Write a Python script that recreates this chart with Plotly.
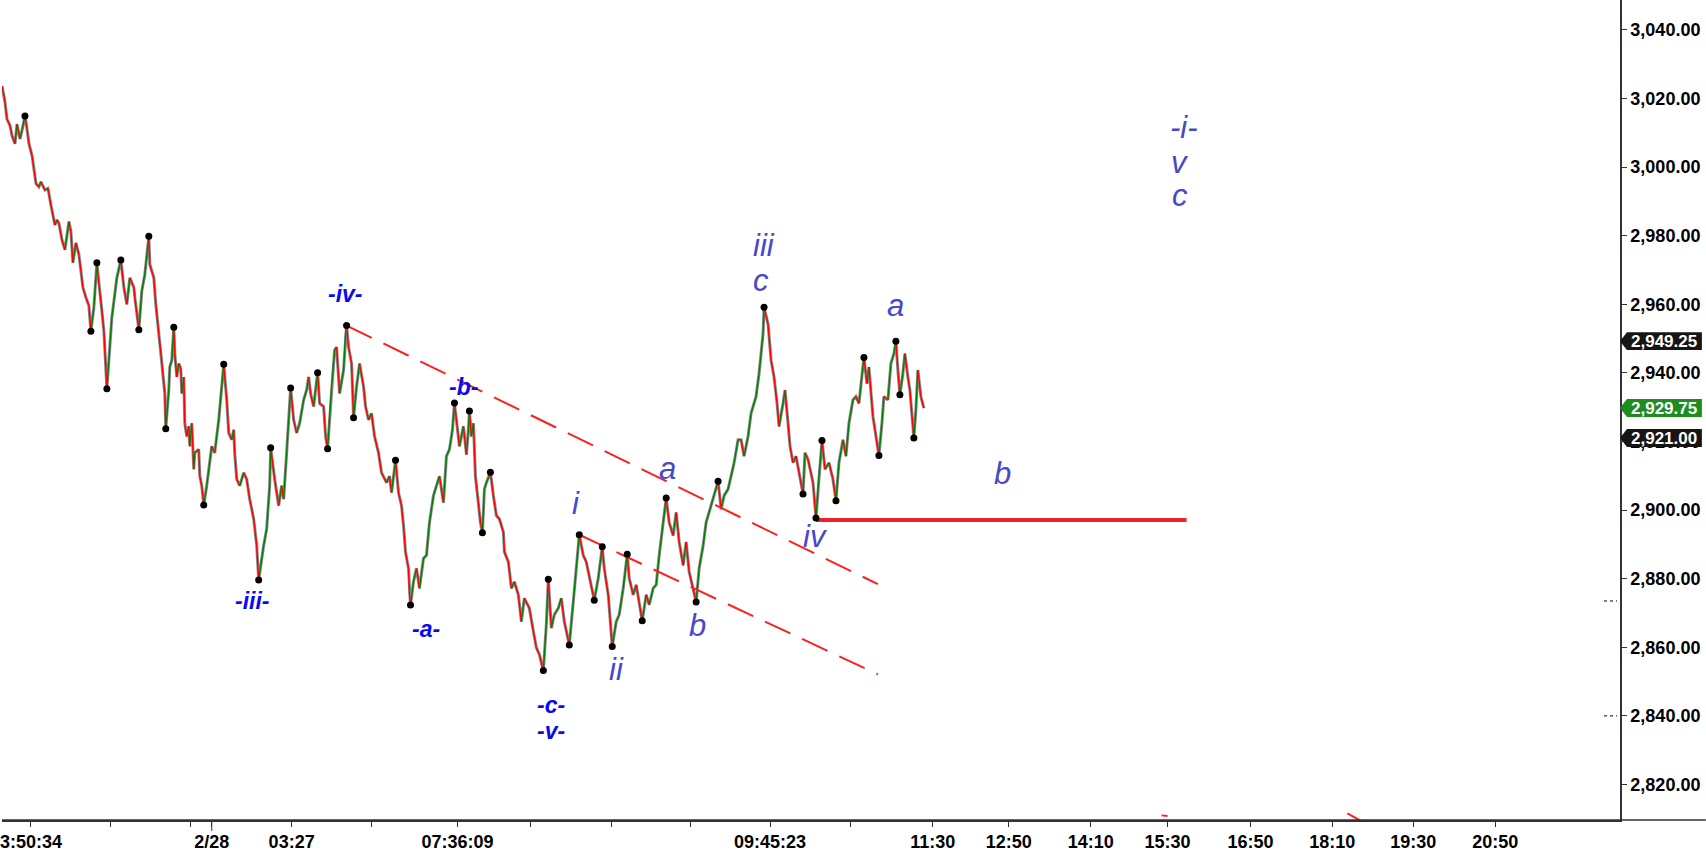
import plotly.graph_objects as go

# ---------------- data ----------------
bar = [0, 2, 3, 5, 8, 10, 13, 15, 18, 20, 23, 25, 27, 30, 32, 34, 37, 39, 43, 46,
       49, 53, 55, 57, 60, 63, 67, 69, 71, 74, 77, 79, 81, 84, 87, 89, 92, 95, 97, 99,
       102, 105, 107, 110, 115, 119, 122, 125, 128, 132, 133, 137, 140, 143, 147, 148, 152, 154, 157, 160,
       163, 164, 167, 168, 170, 172, 173, 175, 177, 179, 180, 182, 183, 185, 187, 188, 190, 192, 193, 197,
       198, 200, 202, 205, 210, 213, 217, 222, 225, 227, 230, 232, 233, 235, 238, 242, 245, 248, 252, 255,
       257, 262, 265, 268, 269, 273, 277, 280, 282, 285, 287, 289, 292, 295, 298, 302, 305, 307, 309, 312,
       316, 318, 322, 324, 326, 330, 333, 335, 338, 342, 344, 345, 347, 350, 352, 355, 358, 362, 364, 367,
       370, 373, 377, 380, 385, 388, 390, 394, 397, 400, 402, 404, 407, 408, 409, 412, 415, 418, 422, 425,
       428, 432, 435, 438, 442, 445, 448, 451, 453, 455, 458, 462, 465, 467, 468, 470, 472, 474, 477, 479,
       481, 483, 485, 489, 492, 495, 498, 502, 503, 507, 510, 513, 517, 520, 523, 528, 532, 535, 538, 542,
       545, 547, 550, 553, 557, 560, 563, 568, 572, 575, 578, 582, 585, 593, 597, 601, 603, 607, 611, 615,
       618, 622, 626, 628, 632, 635, 641, 645, 648, 652, 655, 658, 662, 665, 668, 672, 675, 678, 682, 685,
       688, 695, 698, 702, 705, 708, 717, 720, 723, 727, 730, 733, 737, 740, 743, 747, 750, 755, 758, 762,
       763, 767, 770, 773, 776, 778, 782, 784, 787, 789, 792, 795, 802, 804, 807, 812, 815, 818, 821, 824,
       828, 832, 835, 838, 842, 845, 848, 852, 855, 858, 863, 866, 868, 872, 878, 881, 883, 887, 890, 893,
       895, 897, 899, 902, 904, 907, 909, 913, 915, 917, 920, 923]

price = [3023.6, 3020.7, 3018.9, 3014.0, 3012.1, 3009.2, 3006.8, 3012.5, 3008.2, 3010.6,
         3014.9, 3011.1, 3006.8, 3003.4, 2999.5, 2995.2, 2994.2, 2995.7, 2993.3, 2993.8,
         2988.9, 2983.1, 2984.6, 2983.6, 2978.8, 2975.9, 2984.1, 2981.2, 2972.1, 2977.9,
         2974.5, 2969.7, 2964.9, 2962.0, 2959.6, 2952.1, 2959.1, 2972.1, 2965.8, 2961.0,
         2952.3, 2935.4, 2943.7, 2956.2, 2967.7, 2972.9, 2964.9, 2960.0, 2967.7, 2964.9,
         2962.0, 2952.6, 2963.9, 2968.7, 2979.8, 2971.6, 2967.7, 2960.0, 2951.4, 2943.2,
         2934.0, 2923.7, 2935.0, 2941.7, 2943.7, 2953.3, 2945.6, 2938.8, 2942.7, 2941.2,
         2934.0, 2938.8, 2925.3, 2921.5, 2924.4, 2918.6, 2925.3, 2911.9, 2916.7, 2917.7,
         2909.9, 2907.1, 2901.5, 2907.1, 2918.6, 2916.7, 2926.3, 2942.5, 2932.1, 2922.5,
         2920.5, 2923.4, 2916.7, 2909.0, 2907.1, 2910.9, 2909.0, 2903.2, 2897.4, 2889.7,
         2879.6, 2889.7, 2894.5, 2907.1, 2918.2, 2909.0, 2901.3, 2907.1, 2903.2, 2916.7,
         2926.3, 2935.6, 2926.3, 2922.5, 2925.3, 2932.1, 2935.0, 2938.8, 2934.0, 2930.2,
         2940.0, 2931.1, 2930.2, 2921.5, 2917.9, 2936.0, 2946.6, 2947.5, 2934.0, 2940.8,
         2951.4, 2953.8, 2947.5, 2942.7, 2926.9, 2936.0, 2942.7, 2936.0, 2930.2, 2926.3,
         2928.2, 2921.5, 2916.7, 2910.9, 2908.0, 2909.9, 2905.1, 2914.5, 2905.1, 2901.3,
         2895.5, 2887.8, 2883.0, 2875.3, 2872.3, 2879.1, 2883.0, 2877.2, 2885.9, 2886.8,
         2896.4, 2904.2, 2907.1, 2909.9, 2902.2, 2915.7, 2917.7, 2923.4, 2931.2, 2926.3,
         2918.6, 2924.4, 2916.2, 2923.4, 2928.9, 2921.5, 2925.3, 2909.9, 2902.2, 2896.4,
         2893.4, 2906.1, 2908.0, 2911.0, 2904.2, 2898.4, 2897.4, 2893.6, 2887.8, 2884.9,
         2877.2, 2879.1, 2875.3, 2867.5, 2874.3, 2871.4, 2864.7, 2859.9, 2857.9, 2853.2,
         2866.6, 2879.8, 2865.6, 2869.5, 2871.4, 2874.3, 2867.5, 2860.7, 2873.3, 2883.0,
         2892.8, 2886.8, 2884.9, 2873.7, 2880.1, 2889.3, 2883.0, 2875.3, 2860.2, 2867.5,
         2869.5, 2877.2, 2887.1, 2880.1, 2875.3, 2878.2, 2867.7, 2875.3, 2872.4, 2877.2,
         2878.2, 2886.8, 2896.4, 2903.5, 2896.4, 2892.6, 2899.3, 2890.7, 2883.9, 2890.7,
         2882.0, 2873.2, 2883.0, 2889.7, 2896.4, 2899.3, 2908.4, 2900.3, 2904.2, 2906.1,
         2909.9, 2913.8, 2920.5, 2920.5, 2915.7, 2921.5, 2928.2, 2933.1, 2939.8, 2951.4,
         2959.1, 2954.2, 2943.7, 2938.8, 2931.1, 2924.4, 2931.1, 2935.0, 2925.3, 2918.6,
         2913.8, 2915.7, 2904.7, 2916.7, 2914.8, 2908.0, 2897.7, 2909.9, 2920.3, 2911.9,
         2913.8, 2909.0, 2902.7, 2913.8, 2920.5, 2915.7, 2925.3, 2932.1, 2933.1, 2931.1,
         2944.5, 2936.9, 2941.7, 2927.3, 2915.9, 2925.3, 2933.1, 2932.1, 2942.7, 2945.6,
         2949.25, 2940.8, 2933.6, 2939.8, 2945.6, 2938.8, 2935.0, 2921.0, 2929.2, 2940.8,
         2933.1, 2929.75]

pivot_bar = [23, 89, 95, 105, 119, 137, 147, 164, 172, 202, 222, 257, 269, 289, 316,
             326, 345, 352, 394, 409, 453, 468, 481, 489, 542, 547, 568, 578, 593, 601,
             611, 626, 641, 665, 695, 717, 763, 802, 815, 821, 835, 863, 878, 895, 899, 913]
pivot_price = [3014.9, 2952.1, 2972.1, 2935.4, 2972.9, 2952.6, 2979.8, 2923.7, 2953.3, 2901.5,
               2942.5, 2879.6, 2918.2, 2935.6, 2940.0, 2917.9, 2953.8, 2926.9, 2914.5, 2872.3,
               2931.2, 2928.9, 2893.4, 2911.0, 2853.2, 2879.8, 2860.7, 2892.8, 2873.7, 2889.3,
               2860.2, 2887.1, 2867.7, 2903.5, 2873.2, 2908.4, 2959.1, 2904.7, 2897.7, 2920.3,
               2902.7, 2944.5, 2915.9, 2949.25, 2933.6, 2921.0]

# drawn lines
upper_chan_bar = [345, 877]
upper_chan_price = [2953.8, 2878.4]
lower_chan_bar = [578, 877]
lower_chan_price = [2892.8, 2852.1]
support_bar = [815, 1186]
support_price = [2897.1, 2897.1]
frag1_bar = [1161, 1167]
frag1_price = [2811.0, 2810.8]
frag2_bar = [1347, 1368]
frag2_price = [2811.6, 2808.2]
marker_levels = [2873.5, 2840.0]

# wave labels: (text, bar, price)
major_labels = [("-iv-", 344, 2963.1), ("-iii-", 251, 2873.5), ("-a-", 425, 2865.4),
                ("-b-", 462, 2936.0), ("-c-", 550, 2843.2), ("-v-", 550, 2835.7)]
minor_labels = [("i", 575, 2901.8), ("ii", 615, 2853.6), ("a", 666, 2912.0),
                ("b", 696, 2866.3), ("iii", 763, 2977.0), ("c", 760, 2966.9),
                ("iv", 814, 2892.3), ("a", 895, 2959.7), ("b", 1002, 2910.8),
                ("-i-", 1183, 3011.4), ("v", 1179, 3001.3), ("c", 1179, 2991.7)]

# price tags on the axis
tag_prices = [2949.25, 2929.75, 2921.00]
tag_colors = ["#151515", "#1e8c1e", "#151515"]

# axis ticks
x_tick_pos = [29, 109, 189, 210, 290, 370, 456, 529, 610, 689, 769, 850,
              932, 1008, 1090, 1167, 1250, 1332, 1413, 1495]
x_tick_text = ["3:50:34", "", "", "2/28", "03:27", "", "07:36:09", "", "", "", "09:45:23", "",
               "11:30", "12:50", "14:10", "15:30", "16:50", "18:10", "19:30", "20:50"]
y_ticks = [2820, 2840, 2860, 2880, 2900, 2920, 2940, 2960, 2980, 3000, 3020, 3040]

# ---------------- figure ----------------
W, H = 1706, 852
PL, PR, PT, PB = 0, 86, 0, 25
plot_w = W - PL - PR
plot_h = H - PT - PB
y_lo, y_hi = 2809.65, 3048.7
px_per_unit = plot_h / (y_hi - y_lo)

fig = go.Figure()

# gray "wick" underlay
fig.add_trace(go.Scatter(x=bar, y=price, mode="lines",
                         line=dict(color="#8a8a8a", width=3.0), hoverinfo="skip"))

up_x, up_y, dn_x, dn_y = [], [], [], []
for i in range(len(price) - 1):
    if price[i + 1] >= price[i]:
        up_x += [bar[i], bar[i + 1], None]
        up_y += [price[i], price[i + 1], None]
    else:
        dn_x += [bar[i], bar[i + 1], None]
        dn_y += [price[i], price[i + 1], None]
fig.add_trace(go.Scatter(x=up_x, y=up_y, mode="lines",
                         line=dict(color="#008000", width=1.4), hoverinfo="skip"))
fig.add_trace(go.Scatter(x=dn_x, y=dn_y, mode="lines",
                         line=dict(color="#ff0000", width=1.4), hoverinfo="skip"))

# channel lines
for bx, py in [(upper_chan_bar, upper_chan_price), (lower_chan_bar, lower_chan_price)]:
    fig.add_trace(go.Scatter(x=bx, y=py, mode="lines",
                             line=dict(color="#ff1f1f", width=2, dash="28px,13px"),
                             hoverinfo="skip"))
fig.add_trace(go.Scatter(x=support_bar, y=support_price, mode="lines",
                         line=dict(color="#e8232b", width=4), hoverinfo="skip"))
for bx, py in [(frag1_bar, frag1_price), (frag2_bar, frag2_price)]:
    fig.add_trace(go.Scatter(x=bx, y=py, mode="lines",
                             line=dict(color="#ff2020", width=2), hoverinfo="skip"))

# pivot dots
fig.add_trace(go.Scatter(x=pivot_bar, y=pivot_price, mode="markers",
                         marker=dict(color="black", size=7), hoverinfo="skip"))

annotations = []
for t, bx, py in major_labels:
    annotations.append(dict(x=bx, y=py, xref="x", yref="y", text=t, showarrow=False,
                            font=dict(family="Liberation Sans, Arial", size=23, color="#0a0af0",
                                      weight="bold", style="italic")))
for t, bx, py in minor_labels:
    annotations.append(dict(x=bx, y=py, xref="x", yref="y", text=t, showarrow=False,
                            font=dict(family="Liberation Sans, Arial", size=31, color="#4848cc",
                                      style="italic")))

shapes = []
# price tags
tip = 1.0
box_l = 1 + 7 / plot_w
box_r = 1 + 82 / plot_w
half = 9 / px_per_unit
for p, c in zip(tag_prices, tag_colors):
    shapes.append(dict(type="path", xref="paper", yref="y",
                       path=f"M {tip},{p} L {box_l},{p + half} L {box_r},{p + half} "
                            f"L {box_r},{p - half} L {box_l},{p - half} Z",
                       fillcolor=c, line=dict(width=0), layer="above"))
    annotations.append(dict(x=(box_l + box_r) / 2, y=p, xref="paper", yref="y",
                            text=f"{p:,.2f}", showarrow=False, xanchor="center",
                            font=dict(family="Liberation Sans, Arial", size=17, color="white",
                                      weight="bold")))

# bottom rule extending under the price scale
shapes.append(dict(type="line", xref="paper", yref="paper", x0=0, x1=W / plot_w, y0=0, y1=0,
                   line=dict(color="#333333", width=1.5)))
# long tick at the day change
shapes.append(dict(type="line", xref="x", yref="paper", x0=210, x1=210, y0=0, y1=-11 / plot_h,
                   line=dict(color="#333333", width=1)))
# small dotted level markers near the scale
for lv in marker_levels:
    shapes.append(dict(type="line", xref="paper", yref="y", x0=1 - 16 / plot_w, x1=1 - 3 / plot_w,
                       y0=lv, y1=lv, line=dict(color="black", width=1, dash="dot")))

tickfont = dict(family="Liberation Sans, Arial", size=18, color="black", weight="bold")

fig.update_layout(
    width=W, height=H,
    margin=dict(l=PL, r=PR, t=PT, b=PB, pad=0),
    paper_bgcolor="white", plot_bgcolor="white",
    showlegend=False,
    annotations=annotations, shapes=shapes,
    xaxis=dict(range=[0, plot_w], tickmode="array", tickvals=x_tick_pos, ticktext=x_tick_text,
               showgrid=False, zeroline=False, showline=True, linecolor="#333333", linewidth=1.5,
               ticks="outside", ticklen=5, tickcolor="#333333", tickfont=tickfont,
               ticklabeloverflow="allow", fixedrange=True),
    yaxis=dict(range=[y_lo, y_hi], side="right", tickmode="array", tickvals=y_ticks,
               tickformat=",.2f", showgrid=False, zeroline=False, showline=True,
               linecolor="#333333", linewidth=1.5, ticks="outside", ticklen=5,
               tickcolor="#333333", tickfont=tickfont, ticklabeloverflow="allow",
               fixedrange=True),
)

fig.write_html("out.html", config={"displayModeBar": False},
               post_script="document.body.style.margin='0';document.body.style.overflow='hidden';")
